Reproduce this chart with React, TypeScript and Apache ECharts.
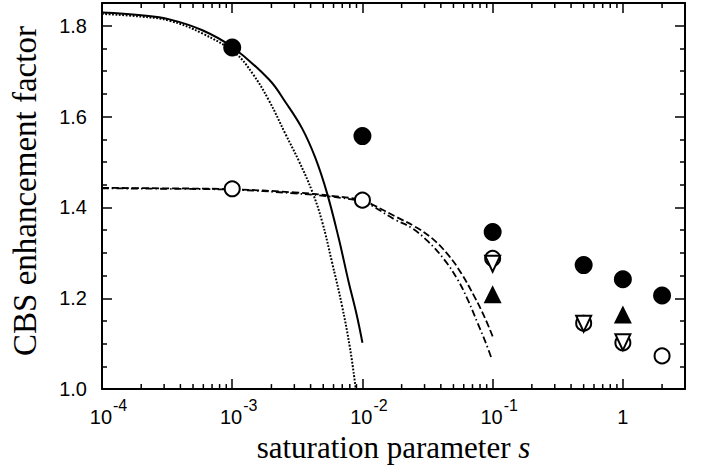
import React, { useEffect, useRef } from 'react';
import * as echarts from 'echarts';

const X_MIN = 1e-4;
const X_MAX = 3;
const Y_MIN = 1.0;
const Y_MAX = 1.85;

// theory curves
const solidCurve: number[][] = [
  [1e-4, 1.829], [2e-4, 1.823], [3.3e-4, 1.814], [5.9e-4, 1.790], [1e-3, 1.753],
  [1.91e-3, 1.682], [2.56e-3, 1.632], [3.44e-3, 1.574], [4.35e-3, 1.509],
  [5.34e-3, 1.432], [6.56e-3, 1.333], [7.82e-3, 1.237], [9.04e-3, 1.163], [1e-2, 1.102],
];
const dottedCurve: number[][] = [
  [1e-4, 1.826], [2e-4, 1.820], [3.3e-4, 1.811], [5.9e-4, 1.783], [1.06e-3, 1.739],
  [1.43e-3, 1.695], [1.91e-3, 1.636], [2.56e-3, 1.562], [3.24e-3, 1.503], [4.1e-3, 1.436],
  [4.89e-3, 1.370], [5.82e-3, 1.281], [6.95e-3, 1.185], [8.04e-3, 1.089], [8.89e-3, 1.0],
];
const dashedCurve: number[][] = [
  [1e-4, 1.443], [3e-4, 1.442], [1e-3, 1.440], [3e-3, 1.433], [6e-3, 1.425], [1e-2, 1.416],
  [1.18e-2, 1.407], [1.88e-2, 1.377], [2.52e-2, 1.358], [3.39e-2, 1.333], [4.54e-2, 1.296],
  [5.74e-2, 1.255], [7.26e-2, 1.203], [8.65e-2, 1.159], [0.1, 1.116],
];
const dashDotCurve: number[][] = [
  [1e-4, 1.442], [3e-4, 1.441], [1e-3, 1.439], [3e-3, 1.431], [6e-3, 1.423], [1e-2, 1.413],
  [1.18e-2, 1.404], [1.78e-2, 1.373], [2.38e-2, 1.355], [3.19e-2, 1.325], [4.28e-2, 1.284],
  [5.41e-2, 1.240], [6.46e-2, 1.196], [7.7e-2, 1.144], [8.91e-2, 1.100], [0.0985, 1.066],
];

// measured points
const filledCircles: number[][] = [
  [1e-3, 1.752], [1e-2, 1.557], [0.1, 1.346], [0.5, 1.273], [1, 1.242], [2, 1.206],
];
const openCircles: number[][] = [
  [1e-3, 1.441], [1e-2, 1.416], [0.1, 1.288], [0.5, 1.145], [1, 1.102], [2, 1.073],
];
const openDownTriangles: number[][] = [
  [0.1, 1.276], [0.5, 1.144], [1, 1.103],
];
const filledUpTriangles: number[][] = [
  [0.1, 1.209], [1, 1.164],
];

// log-axis minor tick positions
const minorXTicks: number[] = [
  2e-4, 3e-4, 4e-4, 5e-4, 6e-4, 7e-4, 8e-4, 9e-4,
  2e-3, 3e-3, 4e-3, 5e-3, 6e-3, 7e-3, 8e-3, 9e-3,
  2e-2, 3e-2, 4e-2, 5e-2, 6e-2, 7e-2, 8e-2, 9e-2,
  0.2, 0.3, 0.4, 0.5, 0.6, 0.7, 0.8, 0.9, 2,
];

const SANS = 'Liberation Sans';
const SERIF = 'Liberation Serif';

export default function App() {
  const ref = useRef<HTMLDivElement>(null);
  useEffect(() => {
    if (!ref.current) return;
    const chart = echarts.init(ref.current, undefined, { renderer: 'svg' });
    const axisLine = { show: true, onZero: false, lineStyle: { color: '#000', width: 2 } };
    const axisTick = { show: true, inside: true, length: 10, lineStyle: { color: '#000', width: 1.5 } };
    const xLabel = {
      show: true,
      margin: 8,
      color: '#000',
      fontFamily: SANS,
      fontSize: 20,
      formatter: (v: number) => {
        const e = Math.log10(v);
        const r = Math.round(e);
        if (Math.abs(e - r) > 1e-6) return '';
        if (r === 0) return '{one|1}';
        return `{b|10}{s|${r}}`;
      },
      rich: {
        b: { fontFamily: SANS, fontSize: 20, color: '#000', lineHeight: 30, padding: [0, 0, 0, 13], verticalAlign: 'bottom' },
        s: { fontFamily: SANS, fontSize: 16, color: '#000', lineHeight: 16, padding: [0, 0, 0, 1], verticalAlign: 'top' },
        one: { fontFamily: SANS, fontSize: 20, color: '#000', lineHeight: 30, verticalAlign: 'bottom' },
      },
    };
    const yLabel = {
      show: true,
      margin: 15,
      color: '#000',
      fontFamily: SANS,
      fontSize: 20,
      formatter: (v: number) => (v > Y_MAX - 0.04 ? '' : v.toFixed(1)),
    };
    const curve = (data: number[][], width: number, type: any) => ({
      type: 'line', data, showSymbol: false, symbol: 'none', smooth: 0.4,
      lineStyle: { color: '#000', width, type }, z: 3, silent: true,
    });
    const option: any = {
      animation: false,
      backgroundColor: '#fff',
      grid: { left: 99, right: 23, top: 3, bottom: 78, containLabel: false },
      xAxis: [
        {
          type: 'log', logBase: 10, min: X_MIN, max: X_MAX, position: 'bottom',
          axisLine, axisTick, axisLabel: xLabel, splitLine: { show: false },
          name: 'saturation parameter {i|s}', nameLocation: 'middle', nameGap: 27,
          nameTextStyle: {
            fontFamily: SERIF, fontSize: 31, color: '#000',
            rich: { i: { fontFamily: SERIF, fontSize: 31, fontStyle: 'italic', color: '#000' } },
          },
        },
        {
          type: 'log', logBase: 10, min: X_MIN, max: X_MAX, position: 'top',
          axisLine, axisTick, axisLabel: { show: false }, splitLine: { show: false },
        },
      ],
      yAxis: [
        {
          type: 'value', min: Y_MIN, max: Y_MAX, interval: 0.2, position: 'left',
          axisLine, axisTick, axisLabel: yLabel, splitLine: { show: false },
          minorTick: { show: true, splitNumber: 4, length: 5, lineStyle: { color: '#000', width: 1.5 } },
          minorSplitLine: { show: false },
          name: 'CBS enhancement factor', nameLocation: 'middle', nameGap: 61,
          nameTextStyle: { fontFamily: SERIF, fontSize: 33, color: '#000', padding: [0, 0, 0, 10] },
        },
        {
          type: 'value', min: Y_MIN, max: Y_MAX, interval: 0.2, position: 'right',
          axisLine, axisTick, axisLabel: { show: false }, splitLine: { show: false },
          minorTick: { show: true, splitNumber: 4, length: 5, lineStyle: { color: '#000', width: 1.5 } },
          minorSplitLine: { show: false },
        },
      ],
      series: [
        {
          type: 'custom', xAxisIndex: 0, yAxisIndex: 0, silent: true, clip: false,
          data: minorXTicks.map((v) => [v, Y_MIN]),
          renderItem: (params: any, api: any) => {
            const v = api.value(0);
            const pb = api.coord([v, Y_MIN]);
            const pt = api.coord([v, Y_MAX]);
            const style = { stroke: '#000', lineWidth: 1.5 };
            return {
              type: 'group',
              children: [
                { type: 'line', shape: { x1: pb[0], y1: pb[1], x2: pb[0], y2: pb[1] - 5 }, style },
                { type: 'line', shape: { x1: pt[0], y1: pt[1], x2: pt[0], y2: pt[1] + 5 }, style },
              ],
            };
          },
        },
        curve(solidCurve, 2, 'solid'),
        curve(dottedCurve, 2, [1.8, 1.6]),
        curve(dashedCurve, 1.8, [7, 3]),
        curve(dashDotCurve, 1.8, [7, 3, 1.5, 3]),
        {
          type: 'scatter', data: filledCircles, symbol: 'circle', symbolSize: 18,
          itemStyle: { color: '#000', opacity: 1 }, z: 5,
        },
        {
          type: 'scatter', data: openCircles, symbol: 'circle', symbolSize: 15,
          itemStyle: { color: '#fff', borderColor: '#000', borderWidth: 2, opacity: 1 }, z: 5,
        },
        {
          type: 'scatter', data: openDownTriangles, symbol: 'triangle', symbolRotate: 180, symbolSize: [15, 16],
          itemStyle: { color: '#fff', borderColor: '#000', borderWidth: 2, opacity: 1 }, z: 6,
        },
        {
          type: 'scatter', data: filledUpTriangles, symbol: 'triangle', symbolSize: [18, 18],
          itemStyle: { color: '#000', opacity: 1 }, z: 5,
        },
      ],
    };
    chart.setOption(option);
    return () => chart.dispose();
  }, []);
  return (
    <div
      ref={ref}
      style={{ position: 'fixed', left: 0, top: 0, width: 708, height: 468, background: '#fff' }}
    />
  );
}
